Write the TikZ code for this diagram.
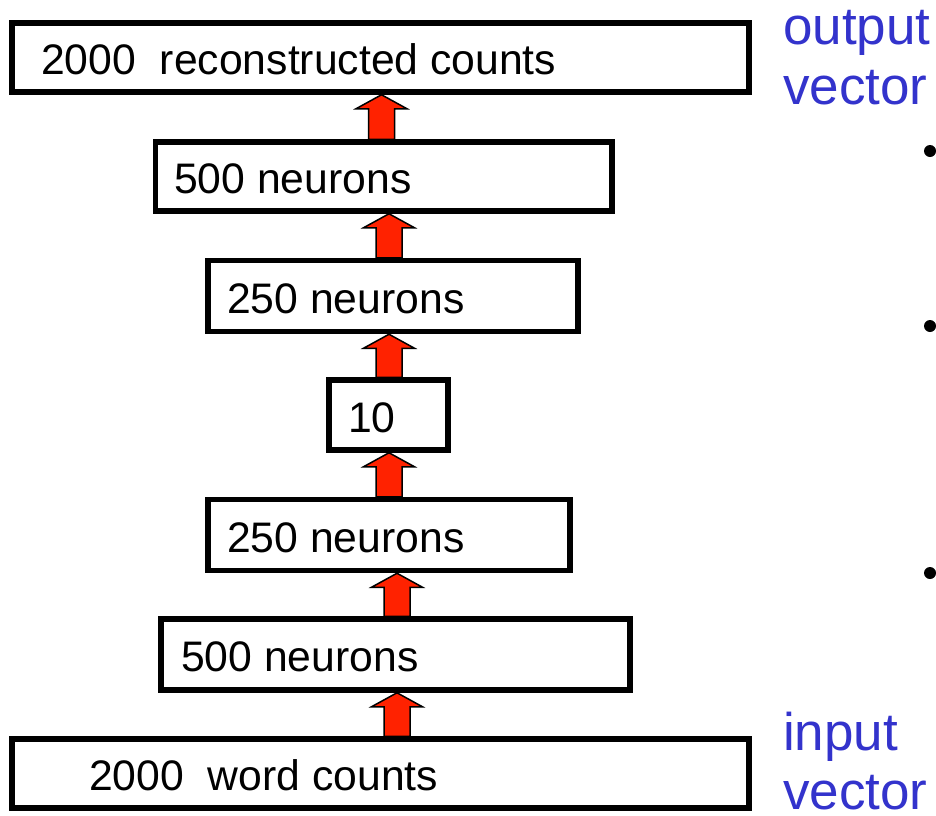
\documentclass[tikz,border=0pt]{standalone}
\usepackage{fontspec}
\setmainfont{Liberation Sans}
\usetikzlibrary{calc}
\definecolor{lblblue}{RGB}{51,51,204}
\definecolor{arrred}{RGB}{255,34,0}
\tikzset{
  layer/.style={draw=black, line width=5.5pt, fill=white, rectangle, inner sep=0pt},
  btxt/.style={anchor=base west, inner sep=0pt, font=\fontsize{42.7}{50}\selectfont},
  lbl/.style={anchor=base west, inner sep=0pt, text=lblblue, font=\fontsize{53}{60}\selectfont},
  blockarr/.style={draw=black, line width=1.5pt, fill=arrred, line join=miter},
  bul/.style={circle, fill=black, inner sep=0pt, minimum size=12pt}
}
\newcommand\upblock[3]{%
  \draw[blockarr] let \p1=(#2.north), \p2=(#3.south) in
    (#1pt-13pt,\y1) -- (#1pt-13pt,\y2-14pt) -- (#1pt-25.5pt,\y2-14pt) -- (#1pt,\y2)
    -- (#1pt+25.5pt,\y2-14pt) -- (#1pt+13pt,\y2-14pt) -- (#1pt+13pt,\y1) -- cycle;}
\begin{document}
\begin{tikzpicture}[x=1pt,y=1pt]
\useasboundingbox (0,0) rectangle (936,-815);
% boxes
\node[layer, minimum width=737pt, minimum height=69pt] (b1) at (380.5,-57.5) {};
\node[layer, minimum width=456.5pt, minimum height=69pt] (b2) at (383.75,-176.5) {};
\node[layer, minimum width=370pt, minimum height=71pt] (b3) at (393,-296) {};
\node[layer, minimum width=119pt, minimum height=70pt] (b4) at (388.5,-415) {};
\node[layer, minimum width=362pt, minimum height=71pt] (b5) at (389,-535) {};
\node[layer, minimum width=469pt, minimum height=71pt] (b6) at (395.5,-654.5) {};
\node[layer, minimum width=737pt, minimum height=69pt] (b7) at (380.5,-773.5) {};
% texts
\node[btxt] (t1) at (41,-74.5) {2000\ \ reconstructed counts};
\node[btxt] (t2) at (174,-193.5) {500 neurons};
\node[btxt] (t3) at (227,-313) {250 neurons};
\node[btxt] (t4) at (348,-432) {10};
\node[btxt] (t5) at (227,-552) {250 neurons};
\node[btxt] (t6) at (181,-671.5) {500 neurons};
\node[btxt] (t7) at (89,-790.5) {2000\ \ word counts};
% arrows
\upblock{381.5}{b2}{b1}
\upblock{389}{b3}{b2}
\upblock{389}{b4}{b3}
\upblock{389}{b5}{b4}
\upblock{397}{b6}{b5}
\upblock{397}{b7}{b6}
% side labels
\node[lbl] (o1) at (783,-44) {output};
\node[lbl] (o2) at (783,-104) {vector};
\node[lbl] (i1) at (783,-750) {input};
\node[lbl] (i2) at (783,-809) {vector};
% bullets
\node[bul] (d1) at (930,-151) {};
\node[bul] (d2) at (930,-326) {};
\node[bul] (d3) at (930,-573) {};
\end{tikzpicture}
\end{document}
